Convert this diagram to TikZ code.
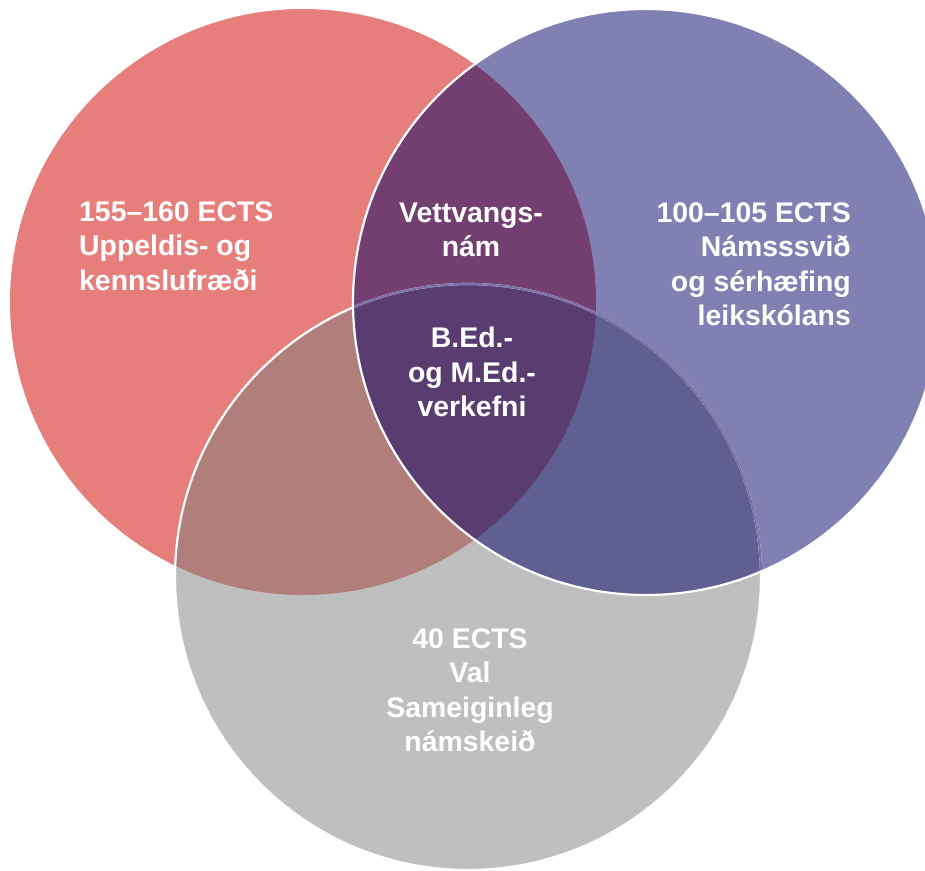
\documentclass[tikz,border=0pt]{standalone}
\usepackage{fontspec}
\setmainfont{Liberation Sans}
\definecolor{redc}{HTML}{E67E7C}
\definecolor{bluec}{HTML}{8080B2}
\definecolor{grayc}{HTML}{BFBFBF}
\definecolor{redblue}{HTML}{723F70}
\definecolor{redgray}{HTML}{B07F7C}
\definecolor{bluegray}{HTML}{5F5F91}
\definecolor{allc}{HTML}{5A3D70}
\definecolor{seam}{HTML}{7B70AA}
\def\R{293}
\tikzset{
  lbl/.style={text=white, font=\bfseries\fontsize{28.4}{34.5}\selectfont, inner sep=0pt},
  rim/.style={draw=white, line width=2.2pt}
}

\begin{document}
\begin{tikzpicture}[x=1pt, y=-1pt]
  \useasboundingbox (0,0) rectangle (925,870);
  \coordinate (R) at (303,302);
  \coordinate (B) at (646,302);
  \coordinate (G) at (468,577);
  % plain discs
  \fill[redc] (R) circle[radius=\R];
  \fill[grayc] (G) circle[radius=\R];
  \begin{scope}
    \clip (G) circle[radius=\R];
    \fill[redgray] (R) circle[radius=\R];
  \end{scope}
  \fill[bluec] (B) circle[radius=\R];
  % overlaps with the blue disc
  \begin{scope}
    \clip (B) circle[radius=\R];
    \fill[redblue] (R) circle[radius=\R];
    \fill[bluegray] (G) circle[radius=\R];
    \clip (R) circle[radius=\R];
    \fill[allc] (G) circle[radius=\R];
  \end{scope}
  % outlines
  \draw[rim] (G) circle[radius=\R];
  \begin{scope}
    \clip (B) circle[radius=\R];
    \draw[seam, line width=2.2pt] (G) circle[radius=\R];
  \end{scope}
  \draw[rim] (B) circle[radius=\R];
  % labels
  \node[lbl, align=left, anchor=west] (uppeldi) at (79,246) {155–160 ECTS\\Uppeldis- og\\kennslufræði};
  \node[lbl, align=right, anchor=east] (namssvid) at (851,264) {100–105 ECTS\\Námsssvið\\og sérhæfing\\leikskólans};
  \node[lbl, align=center] (vettvangur) at (471,230) {Vettvangs-\\nám};
  \node[lbl, align=center] (verkefni) at (472,372) {B.Ed.-\\og M.Ed.-\\verkefni};
  \node[lbl, align=center] (val) at (470,690) {40 ECTS\\Val\\Sameiginleg\\námskeið};
\end{tikzpicture}
\end{document}
